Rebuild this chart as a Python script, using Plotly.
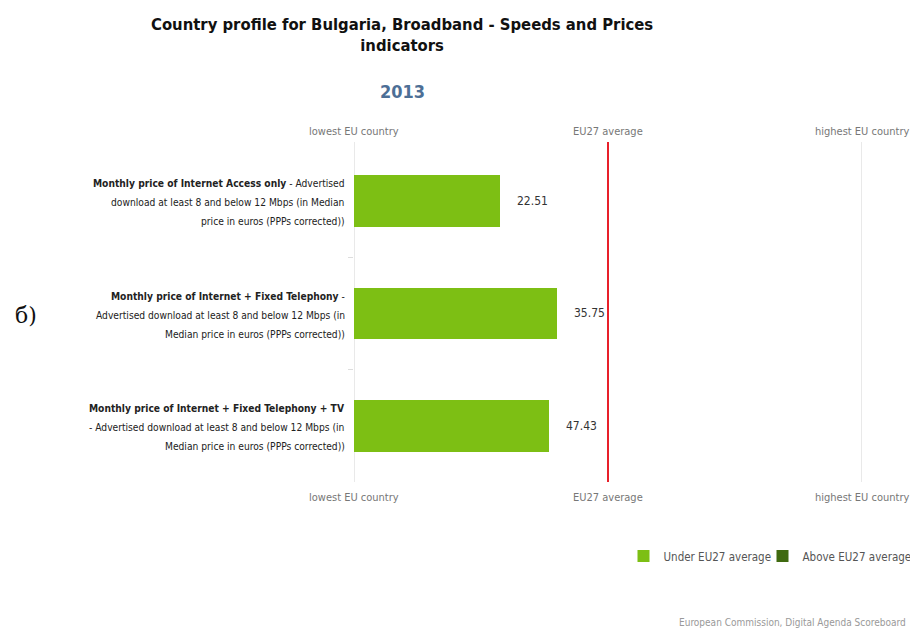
import plotly.graph_objects as go

# ---- data ----
category_lines = [
    ["<b>Monthly price of Internet Access only</b> - Advertised",
     "download at least 8 and below 12 Mbps (in Median",
     "price in euros (PPPs corrected))"],
    ["<b>Monthly price of Internet + Fixed Telephony</b> -",
     "Advertised download at least 8 and below 12 Mbps (in",
     "Median price in euros (PPPs corrected))"],
    ["<b>Monthly price of Internet + Fixed Telephony + TV</b>",
     "- Advertised download at least 8 and below 12 Mbps (in",
     "Median price in euros (PPPs corrected))"],
]
# position on the normalised scale: 0 = lowest EU country, 1 = EU27 average, 2 = highest EU country
scaled_position = [0.575, 0.799, 0.768]
value_labels = ["22.51", "35.75", "47.43"]
ref_positions = [0, 1, 2]
ref_labels = ["lowest EU country", "EU27 average", "highest EU country"]

UNDER = "#7dbf14"
ABOVE = "#3f6a10"
NARROW = "Liberation Sans Narrow, DejaVu Sans Condensed, Arial Narrow, sans-serif"

idx = list(range(len(category_lines)))

fig = go.Figure()
fig.add_trace(go.Bar(
    x=scaled_position, y=idx, orientation="h", width=0.46,
    marker=dict(color=UNDER, line=dict(width=0)),
    name="Under EU27 average", hoverinfo="skip", legendwidth=94,
))
fig.add_trace(go.Bar(
    x=[0], y=[0], orientation="h", width=0.46,
    marker=dict(color=ABOVE, line=dict(width=0)),
    name="Above EU27 average", hoverinfo="skip",
))

annotations = []
# value labels
for i, (v, t) in enumerate(zip(scaled_position, value_labels)):
    annotations.append(dict(x=v, y=i, xref="x", yref="y", text=t, showarrow=False,
                            xanchor="left", xshift=15,
                            font=dict(family=NARROW, size=12, color="#333")))
# category labels (one annotation per line for the looser line spacing)
for i, lines in enumerate(category_lines):
    for k, ln in enumerate(lines):
        annotations.append(dict(x=0, y=i, xref="x", yref="y", text=ln, showarrow=False,
                                xanchor="right", yanchor="middle", xshift=-7,
                                yshift=(1 - k) * 19 - 2,
                                font=dict(family=NARROW, size=10.2, color="#222")))
# reference labels top & bottom
for p, l in zip(ref_positions, ref_labels):
    annotations.append(dict(x=p, y=1, xref="x", yref="paper", text=l, showarrow=False,
                            yanchor="middle", yshift=11,
                            font=dict(family=NARROW, size=11, color="#777")))
    annotations.append(dict(x=p, y=0, xref="x", yref="paper", text=l, showarrow=False,
                            yanchor="middle", yshift=-15,
                            font=dict(family=NARROW, size=11, color="#777")))
# titles and notes
annotations += [
    dict(xref="paper", yref="paper", x=(402 - 354) / 508, y=(482 - 35) / 340,
         text="<b>Country profile for Bulgaria, Broadband - Speeds and Prices<br>indicators</b>",
         showarrow=False, xanchor="center", yanchor="middle",
         font=dict(family=NARROW, size=16.5, color="#111")),
    dict(xref="paper", yref="paper", x=(402 - 354) / 508, y=(482 - 91) / 340,
         text="<b>2013</b>", showarrow=False, xanchor="center", yanchor="middle",
         font=dict(family=NARROW, size=18, color="#4d6f96")),
    dict(xref="paper", yref="paper", x=(908 - 354) / 508, y=(482 - 622) / 340,
         text="European Commission, Digital Agenda Scoreboard", showarrow=False,
         xanchor="right", yanchor="middle",
         font=dict(family=NARROW, size=10, color="#999")),
    dict(xref="paper", yref="paper", x=(26 - 354) / 508, y=(482 - 315) / 340,
         text="б)", showarrow=False, xanchor="center", yanchor="middle",
         font=dict(family="DejaVu Serif, Liberation Serif, serif", size=22, color="#111")),
]

shapes = []
for p in ref_positions:
    shapes.append(dict(type="line", xref="x", yref="paper", x0=p, x1=p, y0=0, y1=1,
                       line=dict(color="#e8202a" if p == 1 else "#e2e2e2",
                                 width=2 if p == 1 else 1.5),
                       layer="above" if p == 1 else "below"))

fig.update_layout(
    width=910, height=629,
    margin=dict(l=354, r=48, t=142, b=147, autoexpand=False),
    paper_bgcolor="white", plot_bgcolor="white",
    barmode="overlay", bargap=0,
    showlegend=True,
    legend=dict(orientation="h", x=(623.5 - 354) / 508, xanchor="left",
                y=(482 - 556) / 340, yanchor="middle",
                font=dict(family=NARROW, size=11.5, color="#555"),
                itemclick=False, itemdoubleclick=False),
    xaxis=dict(range=[0, 2], showgrid=False, zeroline=False, showticklabels=False,
               showline=False, fixedrange=True),
    yaxis=dict(range=[2.498, -0.524], showgrid=False, zeroline=False,
               tickvals=[0.5, 1.5], ticks="outside", ticklen=5, tickcolor="#dddddd",
               showticklabels=False, showline=False, fixedrange=True),
    annotations=annotations,
    shapes=shapes,
)

fig.write_html("out.html", config={"displayModeBar": False},
               post_script="document.body.style.margin='0';")
